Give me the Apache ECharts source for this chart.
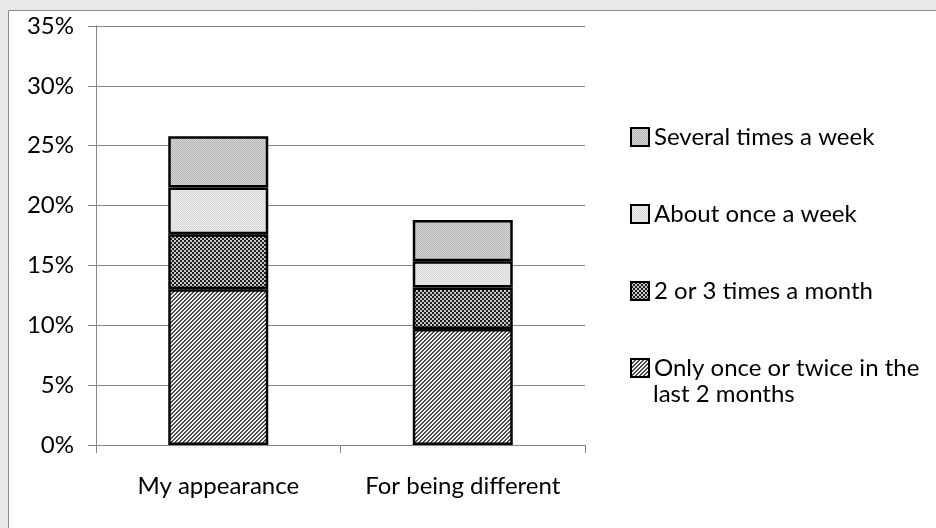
<!DOCTYPE html>
<html>
<head>
<meta charset="utf-8">
<script src="https://cdn.jsdelivr.net/npm/echarts@6/dist/echarts.min.js"></script>
<style>html,body{margin:0;padding:0;background:#e8e8e8;}#c{width:936px;height:528px;}</style>
</head>
<body>
<div id="c"></div>
<script>
const categories = ['My appearance', 'For being different'];
const onlyOnce = [13.0, 9.7];
const twoThree = [4.6, 3.45];
const aboutOnce = [3.9, 2.2];
const several = [4.3, 3.45];
const seriesNames = ['Only once or twice in the last 2 months', '2 or 3 times a month', 'About once a week', 'Several times a week'];
const legendLine1 = 'Only once or twice in the';
const legendLine2 = 'last 2 months';
const yTicks = [0, 5, 10, 15, 20, 25, 30, 35];

function makePattern(size, fn) {
  const c = document.createElement('canvas');
  c.width = size; c.height = size;
  const ctx = c.getContext('2d');
  for (let x = 0; x < size; x++) {
    for (let y = 0; y < size; y++) {
      ctx.fillStyle = fn(x, y);
      ctx.fillRect(x, y, 1, 1);
    }
  }
  return { image: c, repeat: 'repeat' };
}
const patDiag = makePattern(4, (x, y) => ((x + y) % 4 < 2 ? '#4a4a4a' : '#f4f4f4'));
const patCheck = makePattern(4, (x, y) => (((x >> 1) + (y >> 1)) % 2 === 0 ? '#1e1e1e' : '#c8c8c8'));
const patLight = makePattern(2, (x, y) => ((x + y) % 2 === 0 ? '#d8d8d8' : '#ececec'));
const patSeveral = makePattern(2, (x, y) => ((x + y) % 2 === 0 ? '#b6b6b6' : '#d6d6d6'));
const pats = [patDiag, patCheck, patLight, patSeveral];
const values = [onlyOnce, twoThree, aboutOnce, several];

const font = 'Lato, "Open Sans", sans-serif';
const FS = 24;
const chart = echarts.init(document.getElementById('c'), null, { renderer: 'canvas' });

const legendCenters = [137, 214, 291, 368];
const legendOrder = [3, 2, 1, 0];
const legends = legendOrder.map((si, i) => ({
  data: [seriesNames[si]],
  orient: 'vertical',
  left: 630,
  top: legendCenters[i] - 15,
  padding: 0,
  icon: 'rect',
  itemWidth: 18,
  itemHeight: 18,
  itemGap: 0,
  selectedMode: false,
  formatter: si === 0 ? () => legendLine1 : undefined,
  textStyle: { fontFamily: font, fontSize: FS, color: '#000', lineHeight: 30 }
}));

chart.setOption({
  animation: false,
  backgroundColor: '#e8e8e8',
  graphic: [{
    type: 'rect', z: -100, silent: true,
    shape: { x: 8.5, y: 10.5, width: 940, height: 530 },
    style: { fill: '#ffffff', stroke: '#8a8a8a', lineWidth: 1 }
  }, {
    type: 'text', left: 653, top: 382, silent: true,
    style: { text: legendLine2, fontFamily: font, fontSize: FS, fill: '#000' }
  }],
  grid: { left: 96, right: 351, top: 26, bottom: 83, containLabel: false },
  legend: legends,
  xAxis: {
    type: 'category',
    data: categories,
    axisLine: { lineStyle: { color: '#868686', width: 1 } },
    axisTick: { show: true, length: 8, alignWithLabel: false, lineStyle: { color: '#868686' } },
    axisLabel: { fontFamily: font, fontSize: FS, color: '#000', margin: 29, interval: 0 }
  },
  yAxis: {
    type: 'value',
    min: yTicks[0],
    max: yTicks[yTicks.length - 1],
    interval: 5,
    axisLine: { show: true, lineStyle: { color: '#868686', width: 1 } },
    axisTick: { show: true, length: 8, lineStyle: { color: '#868686' } },
    splitLine: { lineStyle: { color: '#868686', width: 1 } },
    axisLabel: { fontFamily: font, fontSize: FS, color: '#000', margin: 22, formatter: '{value}%' }
  },
  series: values.map((v, i) => ({
    name: seriesNames[i],
    type: 'bar',
    stack: 'total',
    barWidth: 100,
    data: v,
    itemStyle: { color: pats[i], borderColor: '#000', borderWidth: 2.5 },
    emphasis: { disabled: true }
  }))
});
</script>
</body>
</html>
